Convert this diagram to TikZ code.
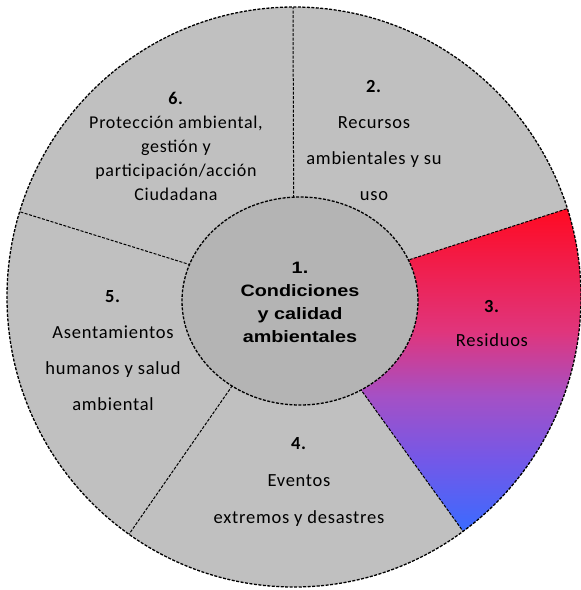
\documentclass[tikz,border=0pt]{standalone}
\usepackage{fontspec}
\usetikzlibrary{calc,shapes.geometric}
\setmainfont{Carlito}[LetterSpace=4]
\newfontfamily\ctrfont{Liberation Sans}[FakeStretch=1.2]
\definecolor{segfill}{RGB}{192,192,192}
\definecolor{ctrfill}{RGB}{180,180,180}
\definecolor{resR}{RGB}{255,10,34}
\definecolor{resK}{RGB}{224,53,124}
\definecolor{resP}{RGB}{165,80,197}
\definecolor{resV}{RGB}{115,88,232}
\definecolor{resB}{RGB}{58,107,255}
\pgfdeclareverticalshading{resshade}{100bp}{color(0bp)=(resB); color(25bp)=(resB); color(36bp)=(resV); color(46bp)=(resP); color(56bp)=(resK); color(75bp)=(resR); color(100bp)=(resR)}
\begin{document}
\begin{tikzpicture}[x=1pt,y=-1pt,
  outline/.style={draw=black,line width=1.3pt,dash pattern=on 3pt off 1.5pt},
  divline/.style={draw=black,line width=1pt,dash pattern=on 3pt off 1.5pt},
  seglabel/.style={align=center,text=black,inner sep=0pt},
  outer/.style={x radius=287,y radius=290}]
\useasboundingbox (0,0) rectangle (581,590);
\clip (0,0) rectangle (581,590);
\coordinate (O) at (294,297);
% outer disk
\fill[segfill] (O) ellipse [outer];
% sector 3 gradient
\shade[shading=resshade] (O) -- ++(-17.75:287 and 290) arc[start angle=-17.75,end angle=53.9,outer] -- cycle;
% dividers
\coordinate (d32) at ($(O)+(-17.75:287 and 290)$);
\coordinate (d26) at ($(O)+(-90.2:287 and 290)$);
\coordinate (d65) at ($(O)+(-162.9:287 and 290)$);
\coordinate (d54) at ($(O)+(125.1:287 and 290)$);
\coordinate (d43) at ($(O)+(53.9:287 and 290)$);
\foreach \d in {d32,d26,d65,d54,d43} \draw[divline] (O) -- (\d);
\draw[outline] (O) ellipse [outer];
% centre
\node[ellipse,fill=ctrfill,outline,minimum width=236pt,minimum height=208pt,inner sep=0pt] (c) at (300,301) {};
\node[seglabel,font={\ctrfont\bfseries\fontsize{16.5}{23}\selectfont}] (t1) at (300,302) {1.\\Condiciones\\y calidad\\ambientales};
% labels
\node[seglabel,font={\fontsize{18}{24}\selectfont}] (t6) at (176,146) {\textbf{6.}\\Protección ambiental,\\gestión y\\participación/acción\\Ciudadana};
\node[seglabel,font={\fontsize{18.5}{36}\selectfont}] (t2) at (374,140) {\textbf{2.}\\Recursos\\ambientales y su\\uso};
\node[seglabel,font={\fontsize{18.5}{34}\selectfont}] (t3) at (492,323) {\textbf{3.}\\Residuos};
\node[seglabel,font={\fontsize{18.5}{37}\selectfont}] (t4) at (299,482) {\textbf{4.}\\Eventos\\extremos y desastres};
\node[seglabel,font={\fontsize{18.5}{36}\selectfont}] (t5) at (113,351) {\textbf{5.}\\Asentamientos\\humanos y salud\\ambiental};
\end{tikzpicture}
\end{document}
